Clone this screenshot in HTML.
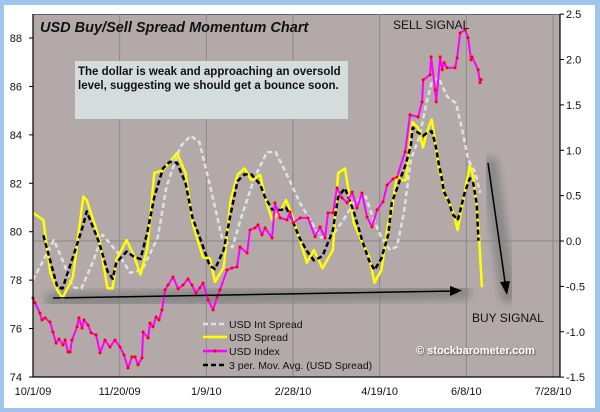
<!DOCTYPE html>
<html><head><meta charset="utf-8">
<style>
html,body{margin:0;padding:0;background:#9fc5ec;}
svg{display:block;font-family:"Liberation Sans",Arial,sans-serif;}
</style></head>
<body>
<svg id="chart" width="600" height="412" viewBox="0 0 600 412">
<defs>
<filter id="blur" x="-20%" y="-50%" width="140%" height="200%"><feGaussianBlur stdDeviation="4"/></filter>
<filter id="tshadow"><feDropShadow dx="1" dy="1" stdDeviation="0.8" flood-color="#555"/></filter>
</defs>
<rect x="0" y="0" width="600" height="412" fill="#9fc5ec"/>
<rect x="4" y="5" width="591" height="403" fill="#ffffff"/>
<rect x="33" y="14" width="527" height="363" fill="#b3a9a9"/>
<line x1="33" y1="14.5" x2="560" y2="14.5" stroke="#666" stroke-width="1"/>
<g id="grid"></g>
<g id="annot-shadows">
<line x1="53" y1="300" x2="463" y2="292" stroke="#808080" stroke-width="16" stroke-linecap="round" filter="url(#blur)" opacity="0.8"/>
<line x1="490" y1="165" x2="508" y2="295" stroke="#808080" stroke-width="16" stroke-linecap="round" filter="url(#blur)" opacity="0.8"/>
</g>
<rect x="75" y="61" width="273" height="58" fill="#d5dcdc"/>
<text x="78" y="75" font-size="11.5" font-weight="bold" fill="#111">The dollar is weak and approaching an oversold</text>
<text x="78" y="89" font-size="11.5" font-weight="bold" fill="#111">level, suggesting we should get a bounce soon.</text>
<g id="series"></g>
<line x1="53" y1="298" x2="455" y2="291" stroke="#000" stroke-width="1.5"/>
<polygon points="462,290.5 450,286 450,296" fill="#000"/>
<line x1="488" y1="163" x2="505" y2="282" stroke="#000" stroke-width="1.5"/>
<polygon points="507,295 500,282 510,281" fill="#000"/>
<text x="40" y="32" font-size="14.5" font-weight="bold" font-style="italic" fill="#111">USD Buy/Sell Spread Momentum Chart</text>
<text x="393" y="29" font-size="12" fill="#111">SELL SIGNAL</text>
<text x="472" y="322" font-size="12" fill="#111">BUY SIGNAL</text>
<text x="416" y="354" font-size="11" font-weight="bold" fill="#fff" filter="url(#tshadow)">© stockbarometer.com</text>
<g id="legend">
<g><line x1="203" y1="324" x2="227" y2="324" stroke="#dde3e3" stroke-width="2.5" stroke-dasharray="5,3"/><text x="229" y="328" font-size="10.5" fill="#111">USD Int Spread</text></g>
<g><line x1="203" y1="337" x2="227" y2="337" stroke="#ffff00" stroke-width="2.5"/><text x="229" y="341" font-size="10.5" fill="#111">USD Spread</text></g>
<g><line x1="203" y1="351" x2="227" y2="351" stroke="#ff00ff" stroke-width="2.5"/><circle cx="215" cy="351" r="1.6" fill="#ff0000"/><text x="229" y="355" font-size="10.5" fill="#111">USD Index</text></g>
<g><line x1="203" y1="365" x2="227" y2="365" stroke="#000" stroke-width="2.5" stroke-dasharray="5,3"/><text x="229" y="369" font-size="10.5" fill="#111">3 per. Mov. Avg. (USD Spread)</text></g>
</g>
<g id="axes"></g>
</svg>
<script>
// ---- data ----
const xTickLabels = ["10/1/09","11/20/09","1/9/10","2/28/10","4/19/10","6/8/10","7/28/10"];
const xTickDays = [0,50,100,150,200,250,300];
const leftTicks = [74,76,78,80,82,84,86,88];
const rightTicks = [-1.5,-1.0,-0.5,0.0,0.5,1.0,1.5,2.0,2.5];
const rightTickLabels = ["-1.5","-1.0","-0.5","0.0","0.5","1.0","1.5","2.0","2.5"];

const spreadDays = [0,6,10,14,17,23,29,31,38,43,46,48,54,58,62,66,70,75,79,83,88,92,98,102,105,110,114,118,122,126,131,134,138,143,146,149,154,158,162,167,173,176,180,185,190,194,197,201,205,207,210,212,215,218,219,222,225,227,230,232,234,236,237,240,242,245,246,249,252,254,256,257,259];
const spreadVals = [0.31,0.23,-0.35,-0.54,-0.63,-0.40,0.49,0.45,0.04,-0.52,-0.52,-0.21,0.01,-0.15,-0.37,-0.08,0.75,0.78,0.87,0.97,0.75,0.20,-0.18,-0.19,-0.45,-0.29,0.45,0.73,0.80,0.67,0.73,0.47,0.23,0.34,0.45,0.31,0.01,-0.24,-0.10,-0.30,-0.10,0.75,0.80,0.20,-0.02,-0.18,-0.46,-0.32,0.20,0.34,0.73,0.67,0.67,1.19,1.31,1.25,1.03,1.19,1.34,1.10,0.81,0.67,0.53,0.43,0.34,0.12,0.23,0.53,0.83,0.71,0.37,0.15,-0.51];

const intDays = [0,6,12,17,23,28,35,40,49,56,63,72,77,85,91,96,102,109,115,121,128,135,140,147,154,160,166,171,175,179,185,192,196,201,206,210,214,218,223,227,230,234,239,244,248,251,255,258];
const intVals = [-0.43,-0.21,0.01,-0.21,-0.51,-0.52,-0.21,0.07,-0.13,-0.35,-0.32,0.04,0.60,1.04,1.16,1.09,0.62,0.04,-0.07,0.31,0.71,0.98,0.98,0.71,0.42,0.23,0.04,0.04,0.12,0.23,0.42,0.49,0.26,0.04,-0.10,-0.06,0.31,0.90,1.15,1.52,1.75,1.80,1.59,1.52,1.19,0.90,0.76,0.53];

const indexDays = [0,1.2,4.0,5.2,6.9,9.8,11.5,13.3,15.0,17.3,18.5,20.2,21.4,22.5,25.4,26.5,28.3,29.4,31.7,33.5,36.4,38.7,41.5,44.4,47.3,50.2,52.5,54.8,57.1,58.9,60.6,62.9,63.5,66.4,67.5,69.2,71.0,72.7,74.4,76.2,77.9,80.8,83.7,86.6,89.4,91.7,94.0,96.3,98.1,101.0,103.9,106.2,107.9,111.9,114.8,117.7,119.4,123.5,125.2,128.1,129.8,132.1,133.9,137.9,139.6,142.5,146.6,148.3,150.0,154.1,158.7,162.7,165.6,168.5,170.2,173.1,175.4,178.3,181.2,184.1,186.9,189.8,192.7,195.6,198.5,201.9,204.3,207.7,210.0,214.7,217.5,222.2,224.5,225.1,229.1,229.7,232.0,232.6,234.9,236.1,237.2,238.9,243.5,244.7,246.4,249.3,251.0,252.7,253.3,256.8,257.9,258.5];
const indexVals = [77.26,77.06,76.64,76.36,76.44,76.27,75.86,75.40,75.57,75.32,75.53,75.03,75.03,75.53,76.07,76.44,76.02,76.36,76.15,75.82,75.74,74.99,75.53,75.24,75.53,75.24,74.91,74.37,74.83,74.83,74.50,74.79,75.86,75.61,76.23,76.07,76.48,76.36,76.77,77.60,77.80,78.13,77.64,77.80,78.05,77.80,77.47,77.68,77.88,77.18,76.77,77.31,77.60,78.42,78.50,78.55,79.37,79.12,80.07,80.16,80.28,79.87,80.16,79.74,81.19,80.57,80.49,80.82,80.36,80.57,80.57,79.79,80.20,79.74,80.78,80.78,81.81,81.40,81.19,81.64,80.98,81.60,80.61,80.20,80.90,81.23,81.93,82.18,82.26,83.30,84.83,84.74,85.36,86.27,86.48,87.22,85.86,85.36,87.22,86.69,86.98,86.77,86.77,87.18,88.21,88.34,88.01,87.10,87.22,86.69,86.15,86.28];

// ---- scales ----
const X0 = 33, PXDAY = 1.7333;
function xs(d){ return X0 + d*PXDAY; }
function yL(v){ return 377 - (v-74)*24.214; }
function yR(v){ return 241 - v*90.75; }

const NS = "http://www.w3.org/2000/svg";
function mk(tag, attrs, parent){
  const e = document.createElementNS(NS, tag);
  for (const k in attrs) e.setAttribute(k, attrs[k]);
  parent.appendChild(e);
  return e;
}

// gridlines
const grid = document.getElementById('grid');
for (let i=1;i<xTickDays.length;i++){
  const gl = mk('line',{x1:xs(xTickDays[i]),x2:xs(xTickDays[i]),y1:14,y2:377,stroke:'#888','stroke-width':1},grid);
  
  
}
const hg = mk('line',{x1:33,x2:560,y1:yR(0),y2:yR(0),stroke:'#888','stroke-width':1},grid);



// series
const sg = document.getElementById('series');
function pathFrom(days, vals, yf){
  return days.map((d,i)=>(i?'L':'M')+xs(d).toFixed(1)+','+yf(vals[i]).toFixed(1)).join(' ');
}
const intPath = mk('path',{d:pathFrom(intDays,intVals,yR),fill:'none',stroke:'#dde3e3','stroke-width':2.5,'stroke-dasharray':'5,3','stroke-linejoin':'round'},sg);



const spPath = mk('path',{d:pathFrom(spreadDays,spreadVals,yR),fill:'none',stroke:'#ffff00','stroke-width':2.5,'stroke-linejoin':'round'},sg);



// 3-period moving average of USD Spread (centered)
const maDays = [], maVals = [];
for (let i=1;i<spreadVals.length-1;i++){
  maDays.push(spreadDays[i]);
  maVals.push((spreadVals[i-1]+spreadVals[i]+spreadVals[i+1])/3);
}
const maPath = mk('path',{d:pathFrom(maDays,maVals,yR),fill:'none',stroke:'#000','stroke-width':2.5,'stroke-dasharray':'5,3','stroke-linejoin':'round'},sg);



const ixPath = mk('path',{d:pathFrom(indexDays,indexVals,yL),fill:'none',stroke:'#ff00ff','stroke-width':2,'stroke-linejoin':'round'},sg);


indexDays.forEach((d,i)=>{
  const c = mk('circle',{cx:xs(d),cy:yL(indexVals[i]),r:1.5,fill:'#ff0000'},sg);
  
  
});

// axes
const ax = document.getElementById('axes');
const la = mk('line',{x1:33,x2:33,y1:14,y2:377,stroke:'#000','stroke-width':1.2},ax);


const ra = mk('line',{x1:560,x2:560,y1:14,y2:377,stroke:'#000','stroke-width':1.2},ax);


const ba = mk('line',{x1:33,x2:560,y1:377,y2:377,stroke:'#000','stroke-width':1.2},ax);


leftTicks.forEach(v=>{
  mk('line',{x1:29,x2:33,y1:yL(v),y2:yL(v),stroke:'#000'},ax);
  const t = mk('text',{x:22,y:yL(v)+4,'font-size':11,'text-anchor':'end',fill:'#111'},ax);
  t.textContent = v;
  
  
});
rightTicks.forEach((v,i)=>{
  mk('line',{x1:560,x2:564,y1:yR(v),y2:yR(v),stroke:'#000'},ax);
  const t = mk('text',{x:566,y:yR(v)+4,'font-size':11,fill:'#111'},ax);
  t.textContent = rightTickLabels[i];
  
  
});
xTickDays.forEach((d,i)=>{
  const t = mk('text',{x:xs(d),y:395,'font-size':11,'text-anchor':'middle',fill:'#111'},ax);
  t.textContent = xTickLabels[i];
  
  
});
</script>
</body></html>
